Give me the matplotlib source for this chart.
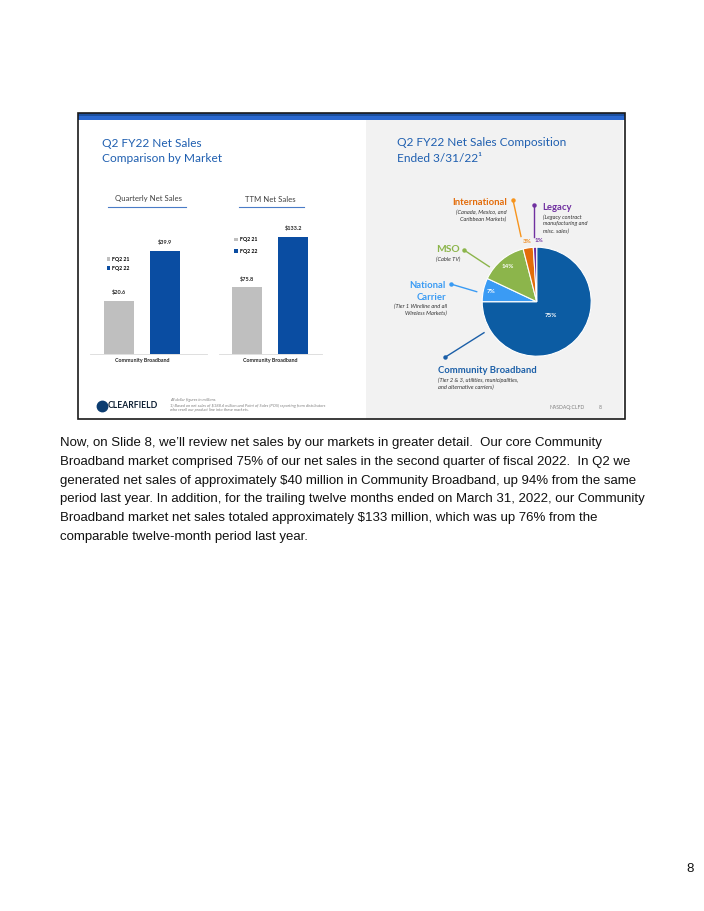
import matplotlib
matplotlib.use("Agg")
import matplotlib.pyplot as plt
import numpy as np
from matplotlib.lines import Line2D
from matplotlib.patches import Rectangle

plt.rcParams["text.parse_math"] = False
plt.rcParams["font.family"] = ["Lato", "DejaVu Sans"]

# ---- data ----
series_names = ["FQ2 21", "FQ2 22"]
bar_category = ["Community Broadband"]
quarterly_sales = [20.6, 39.9]
ttm_sales = [75.8, 133.2]

pie_labels = ["Community Broadband", "National Carrier", "MSO", "International", "Legacy"]
pie_shares = [75, 7, 14, 3, 1]
pie_notes = [
    "(Tier 2 & 3, utilities, municipalities,\nand alternative carriers)",
    "(Tier 1 Wireline and all\nWireless Markets)",
    "(Cable TV)",
    "(Canada, Mexico, and\nCaribbean Markets)",
    "(Legacy contract\nmanufacturing and\nmisc. sales)",
]

body_lines = [
    "Now, on Slide 8, we\u2019ll review net sales by our markets in greater detail.  Our core Community",
    "Broadband market comprised 75% of our net sales in the second quarter of fiscal 2022.  In Q2 we",
    "generated net sales of approximately $40 million in Community Broadband, up 94% from the same",
    "period last year. In addition, for the trailing twelve months ended on March 31, 2022, our Community",
    "Broadband market net sales totaled approximately $133 million, which was up 76% from the",
    "comparable twelve-month period last year.",
]

W, H = 704, 911
BAR_COLORS = ["#bfbfbf", "#0a4da2"]
PIE_COLORS = ["#0c5ca3", "#3a9bf4", "#8cb54b", "#e36c0a", "#7030a0"]
TITLE_BLUE = "#1f5fb0"


def fx(x):
    return x / W


def fy(y):
    return 1 - y / H


def box(x0, y0, x1, y1):
    # pixel box (top-left origin) -> figure fraction rect
    return [fx(x0), fy(y1), (x1 - x0) / W, (y1 - y0) / H]


fig = plt.figure(figsize=(W / 100, H / 100), dpi=100)

# ---- slide frame (kept behind the axes) ----
fig.add_artist(Rectangle((fx(366), fy(418.5)), (623 - 366) / W, (418.5 - 119) / H,
                         transform=fig.transFigure, facecolor="#f2f2f2", edgecolor="none",
                         zorder=-10))
fig.add_artist(Rectangle((fx(78), fy(119.5)), (624.5 - 78) / W, 6 / H,
                         transform=fig.transFigure, facecolor="#2a68cf", edgecolor="none",
                         zorder=-9))
fig.add_artist(Rectangle((fx(78), fy(115.5)), (624.5 - 78) / W, 2 / H,
                         transform=fig.transFigure, facecolor="#1b4f9e", edgecolor="none",
                         zorder=-9))
fig.add_artist(Rectangle((fx(78), fy(419)), (624.5 - 78) / W, (419 - 113.5) / H,
                         transform=fig.transFigure, facecolor="none", edgecolor="#1a1a1a",
                         linewidth=1.2, zorder=5))

# ---- titles ----
fig.text(fx(102), fy(143.5), "Q2 FY22 Net Sales", fontsize=8.6, color=TITLE_BLUE, va="center")
fig.text(fx(102), fy(158), "Comparison by Market", fontsize=8.6, color=TITLE_BLUE, va="center")
fig.text(fx(397), fy(143), "Q2 FY22 Net Sales Composition", fontsize=8.6, color=TITLE_BLUE, va="center")
fig.text(fx(397), fy(159), "Ended 3/31/22\u00b9", fontsize=8.6, color=TITLE_BLUE, va="center")

# ---- bar charts ----
rect_xlim = {"Quarterly Net Sales": (-0.52, 0.65), "TTM Net Sales": (-0.512, 0.515)}


def bar_panel(rect, values, ylim_top, title, title_x, line_x, legend_xy, spacing):
    ax = fig.add_axes(rect)
    width = 0.3
    offsets = [-0.23, 0.23]
    for i, (name, val) in enumerate(zip(series_names, values)):
        bars = ax.bar([offsets[i]], [val], width=width, color=BAR_COLORS[i], label=name)
        ax.bar_label(bars, labels=[f"${val:.1f}"], padding=4, fontsize=4, fontweight="bold",
                     color="#262626")
    ax.set_ylim(0, ylim_top)
    ax.set_xlim(*rect_xlim[title])
    ax.set_xticks([0])
    ax.set_xticklabels(bar_category, fontsize=3.8, fontweight="bold", color="#262626")
    ax.tick_params(axis="x", length=0, pad=3)
    ax.set_yticks([])
    for s in ["top", "right", "left"]:
        ax.spines[s].set_visible(False)
    ax.spines["bottom"].set_color("#d9d9d9")
    ax.spines["bottom"].set_linewidth(0.6)
    ax.patch.set_alpha(0)
    ax.legend(loc="upper left", bbox_to_anchor=(fx(legend_xy[0]), fy(legend_xy[1])),
              bbox_transform=fig.transFigure, frameon=False,
              prop={"weight": "bold", "size": 3.8}, handlelength=0.6, handleheight=0.6,
              handletextpad=0.4, borderpad=0, borderaxespad=0, labelspacing=spacing)
    fig.text(fx(title_x), fy(199), title, fontsize=5.6, color="#404040", ha="center", va="center")
    fig.add_artist(Line2D([fx(line_x[0]), fx(line_x[1])], [fy(207.3), fy(207.3)],
                          transform=fig.transFigure, color="#4a7cc7", linewidth=0.8))
    return ax


bar_panel(box(90, 222, 207, 354), quarterly_sales, 51, "Quarterly Net Sales", 148.5,
          (108, 186), (107, 257), 0.75)
bar_panel(box(219, 222, 321.7, 354), ttm_sales, 150, "TTM Net Sales", 270.5,
          (239, 304), (234.5, 237.5), 1.2)

# ---- pie ----
cx, cy, r = 536.7, 301.7, 54.5
pax = fig.add_axes(box(cx - r, cy - r, cx + r, cy + r))
wedges, _ = pax.pie(pie_shares, colors=PIE_COLORS, startangle=90, counterclock=False,
                    radius=1, wedgeprops={"edgecolor": "white", "linewidth": 0.8})
pax.set_xlim(-1, 1)
pax.set_ylim(-1, 1)
pax.set_aspect("equal")
pax.axis("off")

pct_dist = [0.36, 0.86, 0.84, 1.12, 1.12]
pct_colors = ["white", "white", "white", "#f08a1c", "#7030a0"]
pct_ha = ["center", "center", "center", "center", "left"]
for w, share, d, c, ha in zip(wedges, pie_shares, pct_dist, pct_colors, pct_ha):
    ang = np.deg2rad((w.theta1 + w.theta2) / 2)
    pax.text(d * np.cos(ang), d * np.sin(ang), f"{share}%", color=c, fontsize=4.5,
             fontweight="bold", ha=ha, va="center", clip_on=False)

# ---- pie callouts ----
label_colors = ["#1b5fa8", "#3a9bf4", "#8cb54b", "#e36c0a", "#7030a0"]
line_colors = ["#1b5fa8", "#3a9bf4", "#8cb54b", "#f7941d", "#7030a0"]
callout_lines = [((445, 357.3), (484, 332.7)),
                 ((450.7, 284), (476.7, 291.7)),
                 ((464, 250), (489.3, 266.7)),
                 ((513, 200), (521, 236.5)),
                 ((534, 205), (534, 236.5))]
for (p0, p1), c in zip(callout_lines, line_colors):
    fig.add_artist(Line2D([fx(p0[0]), fx(p1[0])], [fy(p0[1]), fy(p1[1])],
                          transform=fig.transFigure, color=c, linewidth=1.0))
    fig.add_artist(Line2D([fx(p0[0])], [fy(p0[1])], transform=fig.transFigure,
                          marker="o", markersize=2.2, color=c, linestyle="none"))

lab_fs = 6.8
note_fs = 4.1
note_col = "#333333"
# Community Broadband
fig.text(fx(438.3), fy(370.7), pie_labels[0], fontsize=lab_fs, fontweight="bold",
         color=label_colors[0], ha="left", va="center")
fig.text(fx(438.3), fy(377.5), pie_notes[0], fontsize=note_fs, style="italic",
         color=note_col, ha="left", va="top", linespacing=1.45)
# National Carrier
fig.text(fx(446), fy(285), "National", fontsize=lab_fs, fontweight="bold",
         color=label_colors[1], ha="right", va="center")
fig.text(fx(446), fy(297.3), "Carrier", fontsize=lab_fs, fontweight="bold",
         color=label_colors[1], ha="right", va="center")
fig.text(fx(447.3), fy(303.3), pie_notes[1], fontsize=note_fs, style="italic",
         color=note_col, ha="right", va="top", multialignment="right", linespacing=1.45)
# MSO
fig.text(fx(460), fy(249.3), pie_labels[2], fontsize=lab_fs + 0.6, fontweight="bold",
         color=label_colors[2], ha="right", va="center")
fig.text(fx(460), fy(256.5), pie_notes[2], fontsize=note_fs, style="italic",
         color=note_col, ha="right", va="top")
# International
fig.text(fx(507.3), fy(202.3), pie_labels[3], fontsize=lab_fs, fontweight="bold",
         color=label_colors[3], ha="right", va="center")
fig.text(fx(506.7), fy(209.3), pie_notes[3], fontsize=note_fs, style="italic",
         color=note_col, ha="right", va="top", multialignment="right", linespacing=1.45)
# Legacy
fig.text(fx(542.7), fy(208), pie_labels[4], fontsize=lab_fs, fontweight="bold",
         color=label_colors[4], ha="left", va="center")
fig.text(fx(542.7), fy(214), pie_notes[4], fontsize=note_fs, style="italic",
         color=note_col, ha="left", va="top", linespacing=1.45)

# ---- footer ----
fig.add_artist(Line2D([fx(102.3)], [fy(405.7)], transform=fig.transFigure, marker="o",
                      markersize=7.5, color="#0b3c70", linestyle="none"))
fig.text(fx(108), fy(405.7), "CLEARFIELD", fontsize=6.2, fontweight="bold", color="#0d1f33",
         va="center")
fig.text(fx(170), fy(400.5), "All dollar figures in millions.", fontsize=3, style="italic",
         color="#7f7f7f", va="center")
fig.text(fx(170), fy(405.5),
         "1) Based on net sales of $188.6 million and Point of Sales (POS) reporting from distributors",
         fontsize=3, style="italic", color="#7f7f7f", va="center")
fig.text(fx(170), fy(410.5), "who resell our product line into these markets.", fontsize=3,
         style="italic", color="#7f7f7f", va="center")
fig.text(fx(550), fy(407.7), "NASDAQ:CLFD", fontsize=3.6, color="#7f7f7f", va="center")
fig.text(fx(599), fy(407.7), "8", fontsize=3.6, color="#7f7f7f", va="center")

# ---- body text ----
body_font = ["Liberation Sans", "DejaVu Sans"]
for i, line in enumerate(body_lines):
    fig.text(fx(60), fy(443 + i * 18.8), line, fontsize=9.5, family=body_font,
             color="#111111", va="center")
fig.text(fx(686), fy(869), "8", fontsize=9.5, family=body_font, color="#111111", va="center")

fig.savefig("out.png", dpi=100)
